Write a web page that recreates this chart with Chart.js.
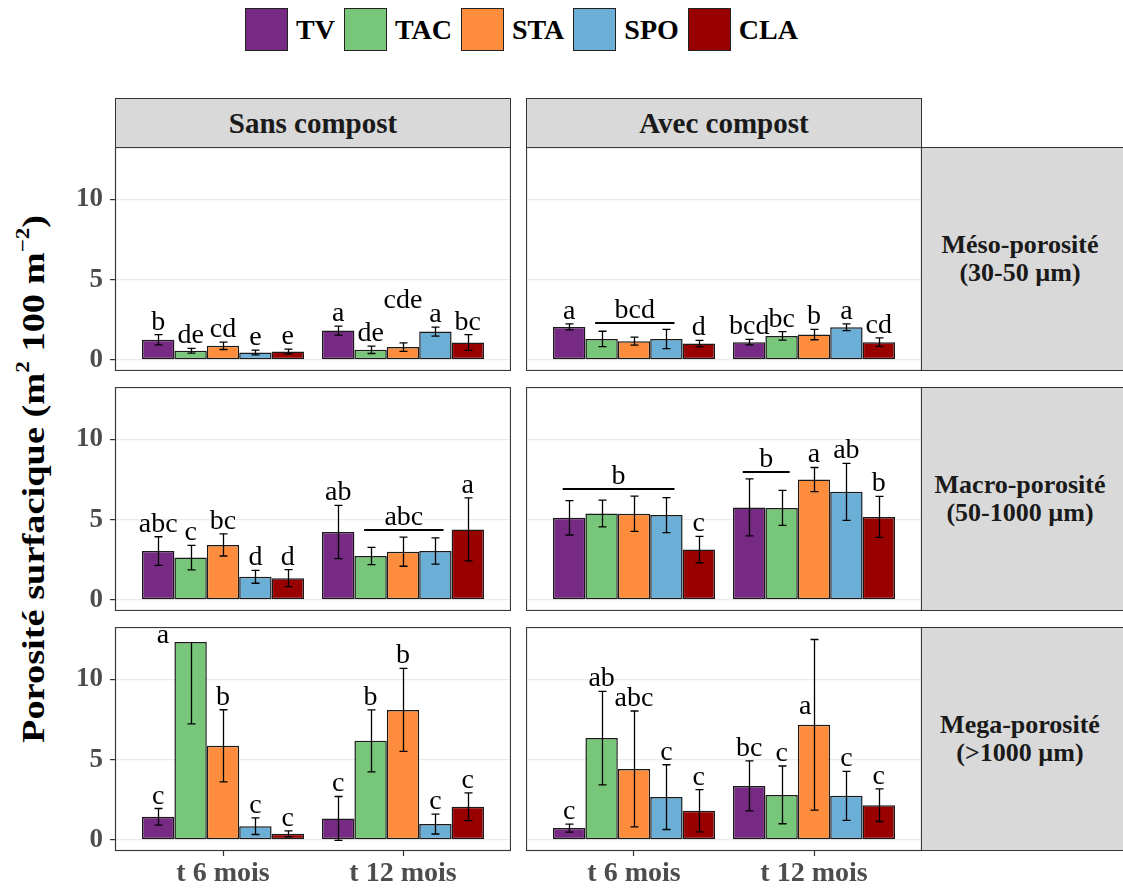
<!DOCTYPE html>
<html lang="fr">
<head>
<meta charset="utf-8">
<title>Porosité surfacique</title>
<script src="https://cdn.jsdelivr.net/npm/chart.js@4.4.1/dist/chart.umd.min.js"></script>
<style>
  html, body { margin: 0; padding: 0; background: #fff; }
  #page { position: relative; width: 1123px; height: 890px; overflow: hidden; font-family: 'Liberation Serif', 'Times New Roman', serif; }
  .box { position: absolute; }
  .strip { position: absolute; background: #D9D9D9; border: 1px solid #333; box-sizing: border-box; display: flex; align-items: center; justify-content: center; text-align: center; font-weight: bold; font-size: 26px; line-height: 28px; color: #1A1A1A; }
  .strip.top { font-size: 29px; }
  #legend { position: absolute; left: 245px; top: 8px; display: flex; align-items: center; }
  .key { width: 43px; height: 43px; box-sizing: border-box; border: 1.5px solid #222; }
  .keyLabel { font-weight: bold; font-size: 28px; margin: 0 9px 0 8px; color: #000; }
  #ytitle { position: absolute; left: 33px; top: 479px; transform: translate(-50%, -50%) rotate(-90deg) scaleX(1.2); white-space: nowrap; font-weight: bold; font-size: 32px; color: #000; }
  #ytitle sup { font-size: 0.6em; vertical-align: 0.75em; line-height: 0; }
</style>
</head>
<body>
<div id="page">
  <div id="legend"></div>
  <div id="ytitle">Porosité surfacique (m<sup>2</sup> 100 m<sup>−2</sup>)</div>
</div>
<script>
const series = ['TV', 'TAC', 'STA', 'SPO', 'CLA']
const seriesColors = ['#762A83', '#78C679', '#FD8D3C', '#6BAED6', '#990000']
const timeLabels = ['t 6 mois', 't 12 mois']
const compostLabels = ['Sans compost', 'Avec compost']
const classLabels = [['Méso-porosité', '(30-50 µm)'], ['Macro-porosité', '(50-1000 µm)'], ['Mega-porosité', '(>1000 µm)']]
const yTicks = [0, 5, 10]

// values read per panel: [time][series]
const mesoSansMean = [[1.25, 0.56, 0.87, 0.45, 0.52], [1.82, 0.62, 0.79, 1.76, 1.08]]
const mesoSansSd = [[0.32, 0.15, 0.23, 0.15, 0.15], [0.28, 0.23, 0.26, 0.28, 0.49]]
const mesoSansLetters = [['b', 'de', 'cd', 'e', 'e'], ['a', 'de', 'cde', 'a', 'bc']]

const mesoAvecMean = [[2.05, 1.30, 1.16, 1.30, 1.01], [1.10, 1.49, 1.57, 2.03, 1.10]]
const mesoAvecSd = [[0.19, 0.48, 0.25, 0.60, 0.20], [0.17, 0.26, 0.32, 0.21, 0.26]]
const mesoAvecLetters = [['a', '', '', '', 'd'], ['bcd', 'bc', 'b', 'a', 'cd']]

const macroSansMean = [[3.04, 2.63, 3.42, 1.43, 1.35], [4.23, 2.73, 3.00, 3.04, 4.39]]
const macroSansSd = [[0.89, 0.76, 0.69, 0.40, 0.53], [1.66, 0.54, 0.91, 0.82, 1.97]]
const macroSansLetters = [['abc', 'c', 'bc', 'd', 'd'], ['ab', '', '', '', 'a']]

const macroAvecMean = [[5.11, 5.38, 5.36, 5.28, 3.13], [5.76, 5.73, 7.50, 6.73, 5.17]]
const macroAvecSd = [[1.07, 0.83, 1.10, 1.09, 0.82], [1.78, 1.09, 0.75, 1.78, 1.28]]
const macroAvecLetters = [['', '', '', '', 'c'], ['', '', 'a', 'ab', 'b']]

const megaSansMean = [[1.43, 12.34, 5.86, 0.85, 0.37], [1.33, 6.17, 8.10, 0.98, 2.06]]
const megaSansSd = [[0.52, 5.11, 2.25, 0.52, 0.19], [1.37, 1.93, 2.59, 0.62, 0.86]]
const megaSansLetters = [['c', 'a', 'b', 'c', 'c'], ['c', 'b', 'b', 'c', 'c']]

const megaAvecMean = [[0.73, 6.34, 4.42, 2.66, 1.81], [3.36, 2.80, 7.17, 2.74, 2.16]]
const megaAvecSd = [[0.25, 2.92, 3.61, 2.02, 1.32], [1.56, 1.80, 5.32, 1.53, 1.02]]
const megaAvecLetters = [['c', 'ab', 'abc', 'c', 'c'], ['bc', 'c', 'a', 'c', 'c']]

// shared letters drawn over a line spanning several bars
const mesoAvecBrackets = [{ t: 0, from: 1, to: 3, y: 2.32, label: 'bcd' }]
const macroSansBrackets = [{ t: 1, from: 1, to: 3, y: 4.35, label: 'abc' }]
const macroAvecBrackets = [
    { t: 0, from: 0, to: 3, y: 6.89, label: 'b' },
    { t: 1, from: 0, to: 1, y: 7.95, label: 'b' },
]

// letters not sitting right above their whisker (y in data units, dx in bar widths)
const mesoSansMoves = [{ t: 1, s: 2, y: 3.2 }]
const megaSansMoves = [{ t: 0, s: 1, y: 12.3, dx: -0.85 }]
const megaAvecMoves = [{ t: 1, s: 2, y: 7.85, dx: -0.27 }]

const fontFamily = "'Liberation Serif', 'Times New Roman', serif"
const panelLefts = [115, 526]
const panelTops = [147, 387, 627]
const panelW = 396
const panelH = 224
const yAxisW = 60
const xAxisH = 40
const yMin = -0.7
const yMax = 13.27

const panels = [
    { row: 0, col: 0, mean: mesoSansMean, sd: mesoSansSd, letters: mesoSansLetters, brackets: [], moves: mesoSansMoves },
    { row: 0, col: 1, mean: mesoAvecMean, sd: mesoAvecSd, letters: mesoAvecLetters, brackets: mesoAvecBrackets, moves: [] },
    { row: 1, col: 0, mean: macroSansMean, sd: macroSansSd, letters: macroSansLetters, brackets: macroSansBrackets, moves: [] },
    { row: 1, col: 1, mean: macroAvecMean, sd: macroAvecSd, letters: macroAvecLetters, brackets: macroAvecBrackets, moves: [] },
    { row: 2, col: 0, mean: megaSansMean, sd: megaSansSd, letters: megaSansLetters, brackets: [], moves: megaSansMoves },
    { row: 2, col: 1, mean: megaAvecMean, sd: megaAvecSd, letters: megaAvecLetters, brackets: [], moves: megaAvecMoves },
]

const page = document.getElementById('page')

function buildLegend() {
    const legend = document.getElementById('legend')
    series.forEach((name, i) => {
        const key = document.createElement('div')
        key.className = 'key'
        key.style.background = seriesColors[i]
        const label = document.createElement('span')
        label.className = 'keyLabel'
        label.textContent = name
        legend.appendChild(key)
        legend.appendChild(label)
    })
}

function buildStrips() {
    compostLabels.forEach((text, col) => {
        const strip = document.createElement('div')
        strip.className = 'strip top'
        strip.style.left = panelLefts[col] + 'px'
        strip.style.top = '98px'
        strip.style.width = panelW + 'px'
        strip.style.height = '50px'
        strip.textContent = text
        page.appendChild(strip)
    })
    classLabels.forEach((lines, row) => {
        const strip = document.createElement('div')
        strip.className = 'strip'
        strip.style.left = panelLefts[1] + panelW - 1 + 'px'
        strip.style.top = panelTops[row] + 'px'
        strip.style.width = '220px'
        strip.style.height = panelH + 'px'
        strip.style.paddingRight = '22px'
        strip.innerHTML = lines.join('<br>')
        page.appendChild(strip)
    })
}

function marksPlugin(p) {
    return {
        id: 'marks',
        afterDatasetsDraw(chart) {
            const { ctx, chartArea: area } = chart
            const y = chart.scales.y
            const tops = p.mean.map((row) => row.slice())

            ctx.save()
            ctx.beginPath()
            ctx.rect(area.left, area.top, area.right - area.left, area.bottom - area.top)
            ctx.clip()
            ctx.strokeStyle = '#000'
            ctx.lineWidth = 1.3
            series.forEach((_, s) => {
                chart.getDatasetMeta(s).data.forEach((bar, t) => {
                    const m = p.mean[t][s]
                    const e = p.sd[t][s]
                    // upper whisker beyond the scale is dropped
                    const hi = m + e <= yMax ? m + e : m
                    const lo = m - e
                    tops[t][s] = hi
                    const x = Math.round(bar.x) + 0.5
                    const cap = 4
                    ctx.beginPath()
                    ctx.moveTo(x, y.getPixelForValue(hi))
                    ctx.lineTo(x, y.getPixelForValue(lo))
                    if (hi > m) {
                        ctx.moveTo(x - cap, y.getPixelForValue(hi))
                        ctx.lineTo(x + cap, y.getPixelForValue(hi))
                    }
                    ctx.moveTo(x - cap, y.getPixelForValue(lo))
                    ctx.lineTo(x + cap, y.getPixelForValue(lo))
                    ctx.stroke()
                })
            })
            ctx.restore()

            ctx.save()
            ctx.fillStyle = '#000'
            ctx.font = '28px ' + fontFamily
            ctx.textAlign = 'center'
            ctx.textBaseline = 'alphabetic'
            series.forEach((_, s) => {
                chart.getDatasetMeta(s).data.forEach((bar, t) => {
                    const text = p.letters[t][s]
                    if (!text) return
                    const move = p.moves.find((mv) => mv.t === t && mv.s === s)
                    let x = bar.x
                    let py = y.getPixelForValue(tops[t][s]) - 5
                    if (move) {
                        x += (move.dx || 0) * bar.width
                        py = y.getPixelForValue(move.y)
                    }
                    ctx.fillText(text, x, py)
                })
            })

            p.brackets.forEach((b) => {
                const first = chart.getDatasetMeta(b.from).data[b.t]
                const last = chart.getDatasetMeta(b.to).data[b.t]
                const x1 = first.x - 0.2 * first.width
                const x2 = last.x + 0.25 * last.width
                const py = Math.round(y.getPixelForValue(b.y))
                ctx.strokeStyle = '#000'
                ctx.lineWidth = 2
                ctx.beginPath()
                ctx.moveTo(x1, py)
                ctx.lineTo(x2, py)
                ctx.stroke()
                ctx.fillText(b.label, (x1 + x2) / 2, py - 5)
            })
            ctx.restore()
        },
        afterDraw(chart) {
            const { ctx, chartArea: area } = chart
            ctx.save()
            ctx.strokeStyle = '#3A3A3A'
            ctx.lineWidth = 1.2
            ctx.strokeRect(area.left + 0.5, area.top + 0.5, area.right - area.left - 1, area.bottom - area.top - 1)
            ctx.restore()
        },
    }
}

function makePanel(p) {
    const showY = p.col === 0
    const showX = p.row === 2
    const w = panelW + (showY ? yAxisW : 0)
    const h = panelH + (showX ? xAxisH : 0)

    const holder = document.createElement('div')
    holder.className = 'box'
    holder.style.left = panelLefts[p.col] - (showY ? yAxisW : 0) + 'px'
    holder.style.top = panelTops[p.row] + 'px'
    holder.style.width = w + 'px'
    holder.style.height = h + 'px'
    const canvas = document.createElement('canvas')
    canvas.width = w
    canvas.height = h
    holder.appendChild(canvas)
    page.appendChild(holder)

    const datasets = series.map((name, s) => ({
        label: name,
        data: timeLabels.map((_, t) => ({ x: t + 1, y: p.mean[t][s] })),
        backgroundColor: seriesColors[s],
        borderColor: '#1A1A1A',
        borderWidth: 1.5,
        borderSkipped: false,
        categoryPercentage: 0.9,
        barPercentage: 1,
    }))

    new Chart(canvas.getContext('2d'), {
        type: 'bar',
        data: { datasets: datasets },
        options: {
            responsive: false,
            animation: false,
            devicePixelRatio: 1,
            layout: { padding: 0 },
            plugins: {
                legend: { display: false },
                tooltip: { enabled: false },
            },
            scales: {
                x: {
                    type: 'linear',
                    min: 0.4,
                    max: 2.6,
                    offset: false,
                    display: showX,
                    afterBuildTicks: (scale) => {
                        scale.ticks = timeLabels.map((_, i) => ({ value: i + 1 }))
                    },
                    afterFit: (scale) => {
                        scale.height = showX ? xAxisH : 0
                        scale.paddingLeft = 0
                        scale.paddingRight = 0
                    },
                    ticks: {
                        callback: (v) => timeLabels[v - 1],
                        color: '#4D4D4D',
                        font: { family: fontFamily, size: 28, weight: 'bold' },
                        padding: 1,
                        maxRotation: 0,
                        autoSkip: false,
                    },
                    grid: {
                        offset: false,
                        drawOnChartArea: false,
                        drawTicks: true,
                        tickLength: 5,
                        tickColor: '#333',
                        tickWidth: 1.2,
                    },
                    border: { display: false },
                },
                y: {
                    min: yMin,
                    max: yMax,
                    afterBuildTicks: (scale) => {
                        scale.ticks = yTicks.map((v) => ({ value: v }))
                    },
                    afterFit: (scale) => {
                        scale.width = showY ? yAxisW : 0
                        scale.paddingTop = 0
                        scale.paddingBottom = 0
                    },
                    ticks: {
                        display: showY,
                        color: '#4D4D4D',
                        font: { family: fontFamily, size: 27, weight: 'bold' },
                        padding: 7,
                    },
                    grid: {
                        color: '#EBEBEB',
                        lineWidth: 1.2,
                        drawTicks: showY,
                        tickLength: 5,
                        tickColor: '#333',
                        tickWidth: 1.2,
                    },
                    border: { display: false },
                },
            },
        },
        plugins: [marksPlugin(p)],
    })
}

buildLegend()
buildStrips()
panels.forEach(makePanel)
</script>
</body>
</html>
